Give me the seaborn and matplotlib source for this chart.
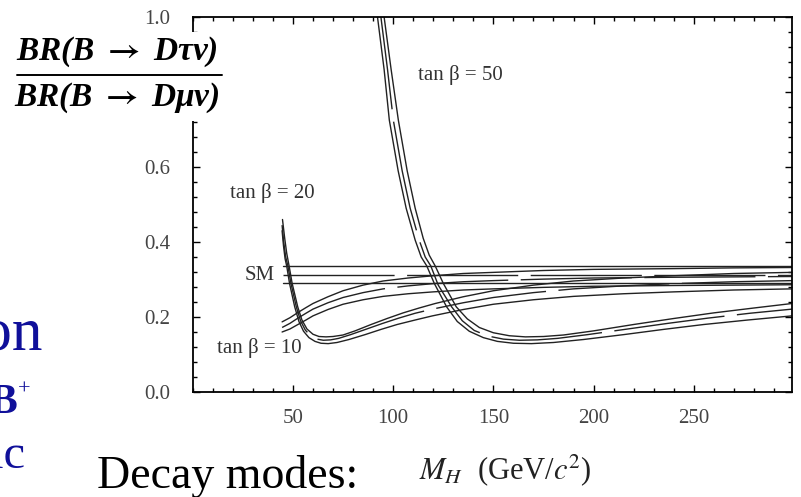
import matplotlib
matplotlib.use("Agg")
import matplotlib.pyplot as plt
import seaborn as sns
from matplotlib.lines import Line2D
from matplotlib.patches import Rectangle
from matplotlib.ticker import FixedLocator, MultipleLocator

# ---------------- data ----------------
# Standard Model band (three horizontal lines)
SM_MH = [45.0, 299.0]
SM_U = [0.336, 0.336]
SM_M = [0.312, 0.312]
SM_L = [0.290, 0.290]

# tan beta = 50 band
TB50_U_MH = [94.0, 95.5, 99.0, 102.6, 107, 111, 115, 118, 121, 125, 131.5, 137, 143, 150, 158, 166, 175, 185, 200, 220, 240, 260, 280, 299]
TB50_U_R = [1.06, 1.00, 0.86, 0.725, 0.59, 0.49, 0.41, 0.365, 0.336, 0.29, 0.227, 0.195, 0.172, 0.158, 0.150, 0.147, 0.148, 0.152, 0.163, 0.180, 0.196, 0.211, 0.224, 0.236]
TB50_M_MH = [92.4, 93.9, 97.2, 100.1, 104.5, 108.5, 113, 116, 118.8, 122.5, 129.2, 134.5, 140.5, 147.5, 155, 163, 172, 182, 197, 217, 237, 257, 278, 299]
TB50_M_R = [1.06, 1.00, 0.86, 0.725, 0.59, 0.49, 0.405, 0.36, 0.336, 0.285, 0.227, 0.190, 0.164, 0.149, 0.141, 0.138, 0.139, 0.143, 0.153, 0.168, 0.183, 0.197, 0.210, 0.221]
TB50_L_MH = [90.8, 92.2, 95.5, 98.1, 102.5, 106.5, 111, 114, 116.8, 120.5, 126.7, 132, 138, 145, 152, 160, 169, 180, 195, 215, 235, 255, 277, 299]
TB50_L_R = [1.06, 1.00, 0.86, 0.725, 0.59, 0.49, 0.405, 0.36, 0.336, 0.29, 0.227, 0.188, 0.162, 0.145, 0.135, 0.130, 0.129, 0.132, 0.140, 0.153, 0.167, 0.180, 0.192, 0.203]

# tan beta = 20 band
TB20_U_MH = [44.8, 45.9, 46.9, 48.1, 49.6, 52.4, 54.5, 57, 60, 63, 66.5, 70, 75, 81, 89, 97, 105, 113, 121, 135, 150, 170, 190, 215, 240, 270, 299]
TB20_U_R = [0.46, 0.41, 0.37, 0.336, 0.29, 0.227, 0.192, 0.168, 0.154, 0.148, 0.147, 0.148, 0.152, 0.163, 0.180, 0.196, 0.211, 0.224, 0.236, 0.254, 0.270, 0.285, 0.296, 0.304, 0.310, 0.316, 0.319]
TB20_M_MH = [44.6, 45.4, 46.4, 47.5, 49, 51.7, 53.8, 56.2, 59, 62, 65.2, 68.8, 72.8, 78.8, 86.8, 94.8, 102.8, 111, 119.6, 135, 150, 170, 190, 215, 240, 270, 299]
TB20_M_R = [0.445, 0.40, 0.36, 0.336, 0.29, 0.227, 0.190, 0.165, 0.149, 0.141, 0.138, 0.139, 0.143, 0.153, 0.168, 0.183, 0.197, 0.210, 0.221, 0.238, 0.252, 0.265, 0.275, 0.283, 0.289, 0.294, 0.297]
TB20_L_MH = [44.6, 45.3, 46.1, 46.9, 48.3, 50.9, 53.0, 55.3, 58, 61, 64, 67.6, 72, 78, 86, 94, 102, 111, 119.6, 135, 150, 170, 190, 215, 240, 270, 299]
TB20_L_R = [0.43, 0.39, 0.355, 0.336, 0.29, 0.227, 0.188, 0.162, 0.145, 0.135, 0.130, 0.129, 0.132, 0.140, 0.153, 0.167, 0.180, 0.192, 0.203, 0.220, 0.234, 0.246, 0.255, 0.262, 0.267, 0.272, 0.275]

# tan beta = 10 band
TB10_MH = [44.6, 48.5, 52.5, 56.5, 60, 67.5, 75, 85, 95, 107.5, 120, 135, 150, 175, 200, 240, 270, 299]
TB10_U_R = [0.187, 0.198, 0.212, 0.225, 0.236, 0.254, 0.270, 0.285, 0.296, 0.304, 0.310, 0.316, 0.319, 0.324, 0.327, 0.329, 0.331, 0.332]
TB10_M_R = [0.172, 0.183, 0.197, 0.210, 0.221, 0.238, 0.252, 0.265, 0.275, 0.283, 0.289, 0.294, 0.297, 0.301, 0.304, 0.306, 0.307, 0.308]
TB10_L_R = [0.160, 0.168, 0.180, 0.192, 0.203, 0.220, 0.234, 0.246, 0.255, 0.262, 0.267, 0.272, 0.275, 0.279, 0.282, 0.284, 0.285, 0.286]

X_TICKS = [50, 100, 150, 200, 250]
Y_TICKS = [0.0, 0.2, 0.4, 0.6, 0.8, 1.0]
# the 0.8 label is hidden behind the ratio label in the reference
Y_TICK_LABELS = ["0.0", "0.2", "0.4", "0.6", "", "1.0"]

# ---------------- figure ----------------
sns.set_theme(style="ticks")
plt.rcParams['font.family'] = ['Liberation Serif', 'DejaVu Serif']
plt.rcParams['mathtext.fontset'] = 'stix'

W, H = 801, 497
fig = plt.figure(figsize=(W / 100, H / 100), dpi=100)
fig.patch.set_facecolor('white')
ax = fig.add_axes([192.7 / W, 1 - 392 / H, (792 - 192.7) / W, (392 - 17) / H])
ax.set_facecolor('white')

LC = '#222222'
LW = 1.0
DASH = (0, (80, 9))

curves = [
    (SM_MH, SM_U, '-'), (SM_MH, SM_M, DASH), (SM_MH, SM_L, '-'),
    (TB50_U_MH, TB50_U_R, '-'), (TB50_M_MH, TB50_M_R, DASH), (TB50_L_MH, TB50_L_R, '-'),
    (TB20_U_MH, TB20_U_R, '-'), (TB20_M_MH, TB20_M_R, DASH), (TB20_L_MH, TB20_L_R, '-'),
    (TB10_MH, TB10_U_R, '-'), (TB10_MH, TB10_M_R, DASH), (TB10_MH, TB10_L_R, '-'),
]
for xs, ys, ls in curves:
    sns.lineplot(x=xs, y=ys, ax=ax, color=LC, lw=LW, linestyle=ls,
                 sort=False, estimator=None)

ax.set_xlim(0, 299)
ax.set_ylim(0, 1.0)
ax.xaxis.set_major_locator(FixedLocator(X_TICKS))
ax.xaxis.set_minor_locator(MultipleLocator(10))
ax.yaxis.set_major_locator(FixedLocator(Y_TICKS))
ax.set_yticklabels(Y_TICK_LABELS)
ax.yaxis.set_minor_locator(MultipleLocator(0.04))
ax.tick_params(which='both', direction='in', top=True, right=True,
               color='black', labelcolor='#444444', labelsize=15)
ax.tick_params(which='major', length=5, width=1.0)
ax.tick_params(which='minor', length=3, width=1.0)
ax.tick_params(axis='x', pad=12)
ax.tick_params(axis='y', pad=16)
for sp in ax.spines.values():
    sp.set_color('black')
    sp.set_linewidth(1.3)
ax.set_xlabel('')
ax.set_ylabel('')

TXT = '#333333'
ax.text((460 - 192.7) / 2.004, 0.845, 'tan β = 50', color=TXT, fontsize=15, ha='center', va='center')
ax.text((272 - 192.7) / 2.004, 0.531, 'tan β = 20', color=TXT, fontsize=15, ha='center', va='center')
ax.text((275 - 192.7) / 2.004, 0.312, 'SM', color=TXT, fontsize=15, ha='right', va='center')
ax.text((259 - 192.7) / 2.004, 0.117, 'tan β = 10', color=TXT, fontsize=15, ha='center', va='center')

# y-axis label as a fraction, on a white patch
fig.patches.append(Rectangle((0, 1 - 121 / H), 225 / W, 89 / H, transform=fig.transFigure,
                             facecolor='white', edgecolor='none', zorder=2))
fig.text(117 / W, 1 - 52 / H, r'BR(B $\mathbf{\rightarrow}$ Dτν)', fontsize=24, fontweight='bold',
         fontstyle='italic', ha='center', va='center', color='black', zorder=4)
fig.text(117 / W, 1 - 98 / H, r'BR(B $\mathbf{\rightarrow}$ Dμν)', fontsize=24, fontweight='bold',
         fontstyle='italic', ha='center', va='center', color='black', zorder=4)
fig.lines.append(Line2D([17 / W, 222 / W], [1 - 75 / H, 1 - 75 / H], transform=fig.transFigure,
                        color='black', lw=1.4, zorder=4))

# x-axis label
fig.text(505 / W, 1 - 470 / H, r'$M_H$  (GeV/$c^2$)', fontsize=22, ha='center', va='center', color='#222222')

# slide text around the chart
fig.text(97 / W, 1 - 488 / H, 'Decay modes:', fontsize=33, ha='left', va='baseline', color='black')
BLUE = '#10109a'
fig.text(43 / W, 1 - 350 / H, 'Motivation', fontsize=44, ha='right', va='baseline', color=BLUE)
fig.text(17 / W, 1 - 413 / H, 'B', fontsize=30, fontweight='bold', ha='right', va='baseline', color=BLUE)
fig.text(24 / W, 1 - 390 / H, '+', fontsize=16, ha='center', va='center', color=BLUE)
fig.text(25 / W, 1 - 468 / H, 'ic', fontsize=35, ha='right', va='baseline', color=BLUE)

fig.savefig('out.png', dpi=100, facecolor='white')
